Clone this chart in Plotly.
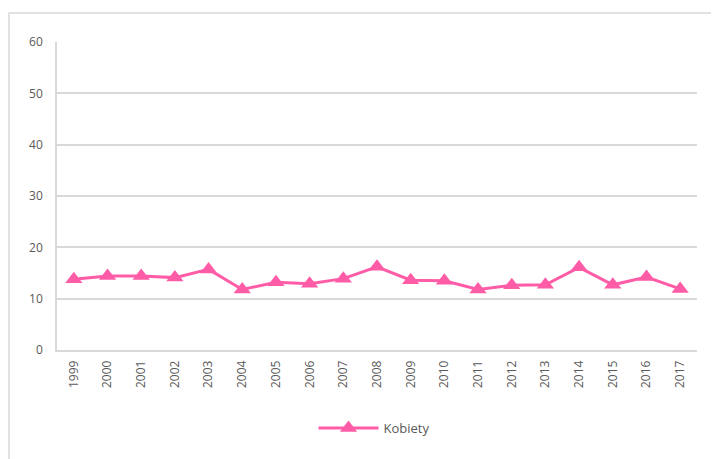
import plotly.graph_objects as go

years = [str(y) for y in range(1999, 2018)]
kobiety = [13.8, 14.4, 14.4, 14.1, 15.7, 11.8, 13.2, 12.9, 13.9, 16.2,
           13.6, 13.5, 11.8, 12.6, 12.7, 16.1, 12.7, 14.2, 11.9]
y_ticks = [0, 10, 20, 30, 40, 50, 60]

color = "#FF5CA8"
fig = go.Figure()
fig.add_trace(go.Scatter(
    x=years, y=kobiety, name="Kobiety", mode="lines+markers",
    line=dict(color=color, width=3),
    marker=dict(symbol="triangle-up", size=15, color=color),
))

# page body has an 8px margin: figure coordinates are screen - 8
W, H = 711, 451
l, r, t, b = 49, 22, 34, 109
pw, ph = W - l - r, H - t - b

def px(x):
    return (x - l) / pw

def py(y):
    return (H - b - y) / ph

fig.update_layout(
    width=W, height=H,
    margin=dict(l=l, r=r, t=t, b=b, autoexpand=False),
    paper_bgcolor="white", plot_bgcolor="white",
    font=dict(family="Open Sans, Liberation Sans, sans-serif", size=12, color="#595959"),
    showlegend=True,
    legend=dict(orientation="h", x=px(366), xanchor="center", y=py(420), yanchor="middle",
                itemwidth=60, font=dict(size=13, color="#595959")),
    xaxis=dict(type="category", range=[-0.5, len(years) - 0.5], tickangle=-90,
               showgrid=False, showline=True,
               linecolor="#d9d9d9", linewidth=1.5, ticks="", tickfont=dict(size=12),
               automargin=False, ticklabelstandoff=4),
    yaxis=dict(range=[0, 60], tickvals=y_ticks, showgrid=True, gridcolor="#d9d9d9",
               gridwidth=1.5, showline=True, linecolor="#d9d9d9", linewidth=1.5,
               zeroline=False, ticks="", ticklen=0, tickfont=dict(size=12),
               automargin=False, ticklabelstandoff=10),
    shapes=[dict(type="rect", xref="paper", yref="paper",
                 x0=px(1), x1=px(760), y0=py(500), y1=py(5),
                 line=dict(color="#d9d9d9", width=1.5), fillcolor="rgba(0,0,0,0)",
                 layer="below")],
)

fig.write_html("out.html")
